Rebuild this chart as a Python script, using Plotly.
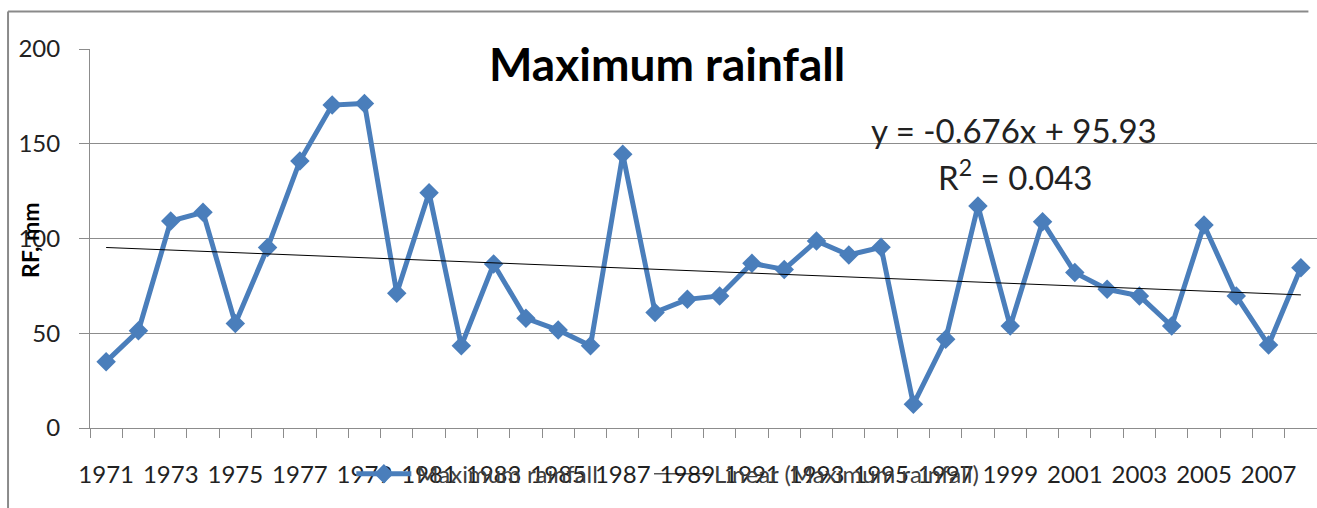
import plotly.graph_objects as go

# Annual maximum rainfall (mm), 1971-2008
years = list(range(1971, 2009))
max_rainfall = [
    35.0, 51.3, 109.2, 113.8, 55.2, 95.2, 140.9, 170.4, 171.3, 71.1,
    124.2, 43.4, 86.5, 57.9, 51.7, 43.4, 144.4, 61.0, 67.9, 69.7,
    86.9, 83.7, 98.7, 91.3, 95.4, 12.5, 46.8, 117.2, 53.8, 108.9,
    82.0, 73.2, 69.7, 53.8, 107.1, 69.7, 43.8, 84.6,
]

# Linear trend y = a*x + b, x = 1..N (series index)
slope = -0.676
intercept = 95.93
r_squared = 0.043
trend = [slope * (i + 1) + intercept for i in range(len(years))]

label_years = years[::2]
label_text = [str(y) for y in label_years]

BLUE = "#4A7EBB"
GRID = "#8C8C8C"
FRAME = "#8A8A8A"
FONT = "Lato"
TEXT = "#222222"
LEGEND_TEXT = "#404040"

fig = go.Figure()

fig.add_trace(go.Scatter(
    x=years, y=max_rainfall, mode="lines+markers",
    name="Maximum rainfall", legend="legend",
    line=dict(color=BLUE, width=5),
    marker=dict(symbol="diamond", size=15, color=BLUE),
))

fig.add_trace(go.Scatter(
    x=years, y=trend, mode="lines",
    name="Linear (Maximum rainfall)", legend="legend2",
    line=dict(color="black", width=1),
))

legend_common = dict(
    orientation="h", xanchor="left", yanchor="middle",
    bgcolor="rgba(0,0,0,0)", font=dict(family=FONT, size=24, color=LEGEND_TEXT),
    itemwidth=55,
)

fig.update_layout(
    width=1317, height=508,
    margin=dict(l=90, r=0, t=49, b=80),
    paper_bgcolor="white", plot_bgcolor="white",
    font=dict(family=FONT, size=24, color=TEXT),
    showlegend=True,
    legend=dict(x=0.213, y=-0.122, **legend_common),
    legend2=dict(x=0.4556, y=-0.122, **legend_common),
)

fig.update_xaxes(
    range=[1970.5, 2008.5], automargin=False,
    tickmode="array", tickvals=label_years, ticktext=label_text, tickangle=0,
    ticks="", showgrid=False, zeroline=False,
    showline=True, linecolor=GRID, linewidth=1,
    ticklabelstandoff=25,
    minor=dict(tick0=1970.5, dtick=1, ticks="outside", ticklen=9,
               tickcolor=GRID, tickwidth=1, showgrid=False),
)

fig.update_yaxes(
    range=[0, 200], automargin=False, tickmode="linear", tick0=0, dtick=50,
    showgrid=True, gridcolor=GRID, gridwidth=1, zeroline=False,
    showline=True, linecolor=GRID, linewidth=1,
    ticks="outside", ticklen=10, tickcolor=GRID,
    ticklabelstandoff=14,
)

# Chart frame: left and top edges
frame_left = -0.0668
frame_top = 1.099
fig.add_shape(type="line", xref="paper", yref="paper",
              x0=frame_left, x1=frame_left, y0=-0.3, y1=frame_top,
              line=dict(color=FRAME, width=2), layer="below")
fig.add_shape(type="line", xref="paper", yref="paper",
              x0=frame_left, x1=0.993, y0=frame_top, y1=frame_top,
              line=dict(color=FRAME, width=2), layer="below")

fig.add_annotation(text="<b>Maximum rainfall</b>", xref="paper", yref="paper",
                   x=0.470, y=0.963, xanchor="center", yanchor="middle", showarrow=False,
                   font=dict(family=FONT, size=46, color="black"))

fig.add_annotation(text="<b>RF, mm</b>", xref="paper", yref="paper",
                   x=-0.049, y=0.496, xanchor="center", yanchor="middle",
                   textangle=-90, showarrow=False,
                   font=dict(family=FONT, size=23, color="black"))

fig.add_annotation(text=f"y = {slope:.3f}x + {intercept:.2f}", xref="paper", yref="paper",
                   x=0.753, y=0.786, xanchor="center", yanchor="middle", showarrow=False,
                   font=dict(family=FONT, size=33, color=TEXT))
fig.add_annotation(text=f"R<sup>2</sup> = {r_squared:.3f}", xref="paper", yref="paper",
                   x=0.754, y=0.668, xanchor="center", yanchor="middle", showarrow=False,
                   font=dict(family=FONT, size=33, color=TEXT))

fig.write_html(
    "out.html",
    post_script="document.body.style.margin='0';document.body.style.overflow='hidden';",
)
